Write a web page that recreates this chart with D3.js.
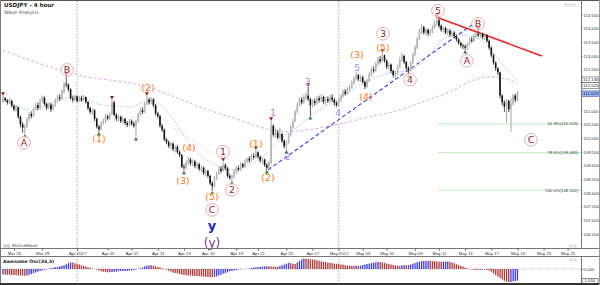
<!DOCTYPE html>
<html lang="en">
<head>
<meta charset="UTF-8">
<title>USDJPY 4 hour - Wave Analysis</title>
<script src="https://d3js.org/d3.v7.min.js"></script>
<style>
  body { margin: 0; background: #fff; }
  svg { display: block; font-family: "DejaVu Sans", sans-serif; }
</style>
</head>
<body>
<svg width="600" height="285"></svg>
<script>
// 4h candles, bar index 0..236
const firstOpen = 111.32;
const closes = [
  111.45,111.38,111.30,111.36,111.18,111.05,111.12,110.78,110.50,110.38,
  110.42,110.70,110.88,110.80,111.05,111.20,111.10,111.35,111.48,111.25,
  111.10,111.22,111.05,111.18,111.38,111.50,111.45,111.70,111.98,111.95,
  111.78,111.45,111.40,111.52,111.35,111.46,111.38,111.50,111.32,111.10,
  110.95,111.02,110.70,110.42,110.32,110.55,110.62,110.80,110.72,110.88,
  111.30,110.85,110.70,110.78,110.62,110.70,110.55,110.48,110.62,110.52,
  110.45,110.62,110.85,111.02,110.95,111.25,111.40,111.30,111.42,111.20,
  110.90,110.80,110.45,110.30,109.95,109.85,109.72,109.80,109.60,109.68,
  109.50,109.38,108.95,108.92,109.10,109.22,109.08,109.15,108.98,109.05,
  108.88,108.92,108.72,108.80,108.62,108.35,108.25,108.55,108.70,108.88,
  108.80,109.02,108.90,108.62,108.55,108.60,108.78,108.90,108.85,109.05,
  108.96,109.15,109.25,109.18,109.35,109.30,109.48,109.32,109.18,109.22,
  109.02,108.92,109.10,110.45,110.12,110.20,110.02,110.15,109.90,109.70,
  109.85,110.10,110.40,110.62,110.95,111.22,111.40,111.30,111.48,111.55,
  111.42,111.20,111.35,111.28,111.45,111.38,111.50,111.32,111.42,111.35,
  111.48,111.40,111.28,111.20,111.38,111.55,111.70,111.62,111.78,111.85,
  112.00,112.18,112.30,112.15,112.22,112.05,111.88,112.10,112.32,112.50,
  112.45,112.70,112.88,112.80,113.02,112.82,112.60,112.68,112.45,112.30,
  112.38,112.60,112.85,113.00,112.78,112.55,112.48,112.75,113.05,113.30,
  113.62,113.90,114.05,113.85,113.95,113.82,113.90,114.05,114.20,114.30,
  114.10,113.95,114.02,113.85,113.92,113.78,113.85,113.72,113.60,113.48,
  113.38,113.35,113.30,113.42,113.60,113.55,113.72,113.80,113.75,113.80,
  113.68,113.75,113.55,113.30,113.02,112.75,112.55,112.40,111.55,111.30,
  111.15,111.35,111.05,111.25,111.55,111.40,111.62
];
const highs = [
  111.54,111.50,111.42,111.44,111.40,111.22,111.20,111.15,110.82,110.58,
  110.50,110.75,110.96,110.98,111.12,111.28,111.30,111.42,111.56,111.52,
  111.30,111.30,111.28,111.24,111.45,111.58,111.60,111.78,112.05,112.24,
  112.00,111.82,111.55,111.58,111.55,111.52,111.55,111.58,111.52,111.36,
  111.15,111.08,111.05,110.75,110.48,110.62,110.72,110.88,110.86,110.95,
  111.40,111.36,110.92,110.85,110.82,110.78,110.74,110.62,110.70,110.68,
  110.60,110.68,110.92,111.10,111.12,111.32,111.54,111.48,111.50,111.45,
  111.25,110.96,110.85,110.52,110.35,110.00,109.92,109.86,109.84,109.74,
  109.76,109.55,109.42,109.05,109.18,109.32,109.28,109.22,109.20,109.12,
  109.10,109.00,108.96,108.88,108.84,108.66,108.42,108.62,108.78,108.95,
  108.98,109.14,109.08,108.95,108.70,108.66,108.85,108.98,109.00,109.12,
  109.10,109.22,109.30,109.34,109.42,109.45,109.57,109.52,109.36,109.30,
  109.25,109.08,109.18,110.63,110.50,110.35,110.30,110.38,110.18,109.95,
  109.92,110.18,110.48,110.70,111.02,111.30,111.48,111.50,111.58,111.65,
  111.87,111.48,111.42,111.45,111.52,111.55,111.60,111.55,111.50,111.52,
  111.58,111.60,111.46,111.35,111.45,111.62,111.78,111.80,111.86,111.95,
  112.10,112.25,112.42,112.35,112.30,112.28,112.10,112.16,112.40,112.58,
  112.62,112.78,112.96,113.00,113.11,113.05,112.88,112.75,112.72,112.50,
  112.45,112.68,112.95,113.10,113.04,112.82,112.62,112.82,113.12,113.38,
  113.70,114.00,114.15,114.10,114.02,114.00,113.98,114.12,114.28,114.39,
  114.35,114.15,114.08,114.05,114.00,113.98,113.92,113.90,113.78,113.65,
  113.52,113.45,113.42,113.48,113.66,113.70,113.80,113.88,113.92,113.88,
  113.85,113.82,113.80,113.60,113.35,113.08,112.80,112.58,112.42,111.60,
  111.38,111.42,111.40,111.45,111.62,111.62,111.72
];
const lows = [
  111.30,111.32,111.22,111.25,111.12,110.98,110.96,110.70,110.40,110.20,
  110.16,110.36,110.62,110.72,110.76,111.00,111.02,111.05,111.30,111.18,
  111.02,111.05,110.95,111.00,111.14,111.32,111.36,111.40,111.62,111.85,
  111.70,111.40,111.30,111.35,111.30,111.30,111.32,111.36,111.26,111.02,
  110.88,110.85,110.62,110.35,110.23,110.28,110.48,110.55,110.64,110.66,
  110.85,110.80,110.62,110.60,110.55,110.52,110.48,110.40,110.42,110.45,
  110.38,110.05,110.55,110.80,110.88,110.92,111.20,111.22,111.25,111.12,
  110.82,110.72,110.38,110.22,109.88,109.78,109.64,109.62,109.52,109.48,
  109.42,109.30,108.90,108.81,108.86,109.02,109.00,108.98,108.90,108.88,
  108.80,108.75,108.65,108.60,108.55,108.28,108.08,108.20,108.48,108.66,
  108.72,108.78,108.82,108.55,108.48,108.44,108.52,108.70,108.78,108.80,
  108.90,108.92,109.08,109.10,109.14,109.22,109.26,109.25,109.10,109.05,
  108.95,108.84,108.88,109.05,110.05,110.00,109.95,109.98,109.82,109.62,
  109.57,109.80,110.05,110.35,110.58,110.90,111.15,111.22,111.25,111.38,
  111.35,110.81,111.12,111.18,111.22,111.30,111.32,111.25,111.20,111.28,
  111.30,111.32,111.18,111.14,111.15,111.32,111.48,111.55,111.58,111.70,
  111.80,111.95,112.10,112.08,112.05,111.98,111.78,111.84,112.05,112.25,
  112.38,112.42,112.62,112.72,112.76,112.75,112.52,112.50,112.38,112.22,
  112.20,112.30,112.55,112.78,112.70,112.48,112.35,112.42,112.70,113.00,
  113.25,113.58,113.80,113.78,113.75,113.72,113.74,113.82,113.98,114.10,
  114.02,113.88,113.85,113.78,113.75,113.70,113.70,113.65,113.52,113.40,
  113.30,113.25,113.22,113.22,113.38,113.48,113.50,113.65,113.68,113.66,
  113.60,113.58,113.48,113.22,112.95,112.68,112.45,112.30,111.45,111.20,
  110.95,110.56,110.95,110.23,111.18,111.30,111.35
];

// Awesome Oscillator (34,5)
const aoValues = [
  -0.50,-0.51,-0.52,-0.52,-0.54,-0.55,-0.56,-0.58,-0.59,-0.60,
  -0.61,-0.58,-0.52,-0.45,-0.38,-0.31,-0.25,-0.18,-0.12,-0.06,
  -0.02,0.03,0.07,0.11,0.15,0.19,0.24,0.29,0.35,0.44,
  0.53,0.61,0.58,0.52,0.46,0.40,0.34,0.28,0.22,0.16,
  0.11,0.05,0.00,-0.07,-0.14,-0.20,-0.24,-0.27,-0.29,-0.30,
  -0.28,-0.26,-0.24,-0.21,-0.19,-0.18,-0.17,-0.16,-0.15,-0.12,
  -0.08,-0.05,-0.01,0.06,0.14,0.22,0.29,0.35,0.34,0.30,
  0.24,0.19,0.13,0.07,0.01,-0.07,-0.15,-0.23,-0.31,-0.36,
  -0.41,-0.46,-0.50,-0.54,-0.56,-0.58,-0.60,-0.62,-0.64,-0.65,
  -0.66,-0.67,-0.69,-0.70,-0.72,-0.74,-0.75,-0.71,-0.66,-0.58,
  -0.51,-0.44,-0.37,-0.29,-0.21,-0.17,-0.13,-0.09,-0.06,-0.03,
  -0.01,0.01,0.03,0.05,0.09,0.13,0.17,0.19,0.21,0.22,
  0.24,0.25,0.24,0.22,0.21,0.20,0.20,0.27,0.35,0.42,
  0.49,0.55,0.52,0.48,0.45,0.58,0.72,0.86,0.95,0.94,
  0.92,0.89,0.87,0.84,0.80,0.76,0.71,0.66,0.62,0.59,
  0.56,0.53,0.50,0.47,0.45,0.42,0.38,0.35,0.32,0.30,
  0.29,0.29,0.30,0.30,0.31,0.36,0.41,0.46,0.50,0.54,
  0.58,0.62,0.65,0.64,0.60,0.55,0.50,0.46,0.41,0.37,
  0.33,0.30,0.29,0.31,0.34,0.33,0.35,0.40,0.47,0.55,
  0.62,0.66,0.70,0.72,0.74,0.75,0.74,0.72,0.70,0.68,
  0.66,0.65,0.66,0.67,0.68,0.67,0.60,0.52,0.44,0.37,
  0.30,0.22,0.14,0.06,0.00,-0.04,-0.07,-0.09,-0.10,-0.08,
  -0.06,-0.05,-0.08,-0.13,-0.25,-0.40,-0.55,-0.68,-0.82,-0.95,
  -1.07,-1.15,-1.19,-1.17,-1.12,-1.08,-1.05
];

// moving averages: [bar, price]
const slowMA = [[0,113.20],[34,112.31],[66,111.87],[82,111.40],[90,111.14],[105.5,110.74],
  [121,110.34],[128.4,110.23],[154.6,110.52],[168.3,110.78],[182.1,111.03],[191.3,111.29],
  [205,111.69],[216.5,112.13],[223.4,112.24],[230.3,112.16],[236.2,112.02]];
const fastMA = [[0,111.51],[12.4,111.03],[26,111.40],[35.3,111.51],[44.5,111.22],[58.3,111.14],
  [67.4,111.40],[76.6,110.85],[85.8,109.76],[90.4,109.39],[97.2,109.03],[104.1,108.84],
  [113.3,109.03],[120.2,109.39],[127.1,109.94],[136.2,110.49],[145.4,111.03],[156.9,111.58],
  [168.3,112.13],[177.5,112.38],[186.7,112.49],[195.9,113.04],[202.8,113.66],[209.6,113.77],
  [218.8,113.59],[225.7,113.04],[230.3,112.57],[235.8,112.13]];

// trend lines: [bar, price] pairs
const supportLine = [[121.6,108.84],[215.1,114.13]];
const resistLine = [[199.5,114.39],[247.2,113.00]];
const channelLine = [[69.7,110.85],[97.2,109.39]];

// fibonacci retracements
const fibStart = 199.5;
const fibLevels = ["61.8%", "78.6%", "100.0%"];
const fibPrices = [110.519, 109.469, 108.102];

// wave labels: [bar, price, text]
const primaryWaves = [[9.6,109.83,"A"],[29.4,112.49,"B"],[95.9,107.38,"C"],[100.9,109.50,"1"],
  [105,108.11,"2"],[174.3,113.81,"3"],[186.7,112.13,"4"],[199.5,114.65,"5"],
  [212.8,112.82,"A"],[217.9,114.17,"B"],[242.2,109.94,"C"]];
const intermediateWaves = [[44,109.97,"(1)"],[66.5,111.84,"(2)"],[82.6,108.44,"(3)"],
  [85.3,109.65,"(4)"],[95.9,107.86,"(5)"],[116,109.79,"(1)"],[121.6,108.55,"(2)"],
  [162.4,113.04,"(3)"],[166.5,111.51,"(4)"],[174.3,113.30,"(5)"]];
const minorWaves = [[123.9,110.92,"1"],[130.7,109.32,"2"],[139.9,112.05,"3"],
  [153.7,110.92,"4"],[162.4,112.57,"5"]];
const cycleWaves = [[95.9,106.80,"y"]];
const superWaves = [[95.9,106.18,"(y)"]];

// swing markers (bar index)
const swingHighs = [0, 29, 50, 66, 101, 116, 123, 140, 174, 199, 218];
const swingLows = [10, 44, 61, 83, 96, 105, 121, 130, 141, 186, 212];

// axes
const priceTicks = [106.5,107,107.5,108,108.5,109,109.5,110,110.5,111,111.5,112,112.5,113,113.5,114,114.5];
const dateIdx = [5,18,34,48,59,71,83,94,107,117,130,142,154,165,176,189,200,212,224,236,248,259];
const dateLabels = ["Mar 26","Mar 29","Apr 2017","Apr 05","Apr 07","Apr 11","Apr 13","Apr 16",
  "Apr 19","Apr 21","Apr 25","Apr 27","May 2017","May 03","May 05","May 09","May 11",
  "May 14","May 17","May 19","May 23","May 25"];
const monthStarts = [34, 154];

const svg = d3.select("svg");
const W = 600, axisX = 581, mainBottom = 248;
const axisFont = "Liberation Sans";

const x = d3.scaleLinear().domain([0, 265]).range([3, 580.7]);
const y = d3.scaleLinear().domain([106, 115]).range([247.7, 1.1]);
const yAO = d3.scaleLinear().domain([-1.27, 1.09]).range([283, 257]);

svg.append("rect").attr("width", W).attr("height", 285).attr("fill", "#fff");

svg.append("clipPath").attr("id", "main")
  .append("rect").attr("x", 0).attr("y", 1).attr("width", axisX).attr("height", mainBottom - 1);

// month separators
svg.append("g").selectAll("line").data(monthStarts).join("line")
  .attr("x1", d => x(d)).attr("x2", d => x(d))
  .attr("y1", 1).attr("y2", 284)
  .attr("stroke", "#999").attr("stroke-width", 0.8).attr("stroke-dasharray", "1.5,1.5");

const plot = svg.append("g").attr("clip-path", "url(#main)");

// fib lines
fibPrices.forEach((p, k) => {
  plot.append("line")
    .attr("x1", x(fibStart)).attr("x2", axisX)
    .attr("y1", y(p)).attr("y2", y(p))
    .attr("stroke", "#bdeebd").attr("stroke-width", 1);
  plot.append("text")
    .attr("x", axisX - 3).attr("y", y(p))
    .attr("dy", "0.35em").attr("text-anchor", "end")
    .attr("font-size", 4.3).attr("fill", "#444").attr("font-family", axisFont)
    .text(fibLevels[k] + "(" + p.toFixed(3) + ")");
});

// moving averages
const maLine = d3.line().x(d => x(d[0])).y(d => y(d[1])).curve(d3.curveMonotoneX);
plot.append("path").datum(slowMA).attr("d", maLine)
  .attr("fill", "none").attr("stroke", "#e6a6e6").attr("stroke-width", 1)
  .attr("stroke-dasharray", "3,2");
plot.append("path").datum(fastMA).attr("d", maLine)
  .attr("fill", "none").attr("stroke", "#a9bff5").attr("stroke-width", 0.9)
  .attr("stroke-dasharray", "1.5,1.2");

// trend lines
const straight = d3.line().x(d => x(d[0])).y(d => y(d[1]));
plot.append("path").datum(channelLine).attr("d", straight)
  .attr("stroke", "#f6c99a").attr("stroke-width", 0.8).attr("stroke-dasharray", "1.5,1.5");
plot.append("path").datum(supportLine).attr("d", straight)
  .attr("stroke", "#3d3de0").attr("stroke-width", 1.1).attr("stroke-dasharray", "4,2.5");
plot.append("path").datum(resistLine).attr("d", straight)
  .attr("stroke", "#ee2222").attr("stroke-width", 1.6);

// candles
const bars = closes.map((c, i) => {
  const o = i === 0 ? firstOpen : closes[i - 1];
  return { i, o, c, h: Math.max(highs[i], o, c), l: Math.min(lows[i], o, c) };
});
const cg = plot.append("g");
cg.selectAll("line").data(bars).join("line")
  .attr("x1", d => x(d.i)).attr("x2", d => x(d.i))
  .attr("y1", d => y(d.h)).attr("y2", d => y(d.l))
  .attr("stroke", d => d.c >= d.o ? "#8c8c8c" : "#222").attr("stroke-width", 0.8);
cg.selectAll("rect").data(bars).join("rect")
  .attr("x", d => x(d.i) - 0.8).attr("width", 1.6)
  .attr("y", d => y(Math.max(d.o, d.c)))
  .attr("height", d => Math.max(0.8, Math.abs(y(d.o) - y(d.c))))
  .attr("fill", d => d.c >= d.o ? "#b5b5b5" : "#111");

// swing markers
const tri = d3.symbol().type(d3.symbolTriangle).size(7);
plot.append("g").selectAll("path").data(swingHighs).join("path")
  .attr("d", tri)
  .attr("transform", d => `translate(${x(d)},${y(highs[d]) - 2.5}) rotate(180)`)
  .attr("fill", "#9a1a1a");
plot.append("g").selectAll("path").data(swingLows).join("path")
  .attr("d", tri)
  .attr("transform", d => `translate(${x(d)},${y(lows[d]) + 2.5})`)
  .attr("fill", "#2e7d32");

// wave labels
const lg = svg.append("g");
lg.selectAll("circle.pw").data(primaryWaves).join("circle")
  .attr("cx", d => x(d[0])).attr("cy", d => y(d[1])).attr("r", 6.3)
  .attr("fill", "#fff").attr("fill-opacity", 0.6)
  .attr("stroke", "#e3a0a0").attr("stroke-width", 0.9);
lg.selectAll("text.pw").data(primaryWaves).join("text")
  .attr("x", d => x(d[0])).attr("y", d => y(d[1]))
  .attr("dy", "0.36em").attr("text-anchor", "middle")
  .attr("font-size", 9.5).attr("fill", "#9b1b1b")
  .text(d => d[2]);
function waveText(data, size, color, weight) {
  lg.append("g").selectAll("text").data(data).join("text")
    .attr("x", d => x(d[0])).attr("y", d => y(d[1]))
    .attr("dy", "0.36em").attr("text-anchor", "middle")
    .attr("font-size", size).attr("fill", color).attr("font-weight", weight)
    .text(d => d[2]);
}
waveText(intermediateWaves, 9.5, "#ff7a12", "normal");
waveText(minorWaves, 9, "#a982ee", "normal");
waveText(cycleWaves, 13, "#2323c8", "bold");
waveText(superWaves, 12, "#80308f", "normal");

// value tags on the price axis (stacked so they do not overlap)
const tags = [
  { p: fastMA[fastMA.length - 1][1], fill: "#fff", stroke: "#555" },
  { p: slowMA[slowMA.length - 1][1], fill: "#fff", stroke: "#555" },
  { p: closes[closes.length - 1], fill: "#9fb4ff", stroke: "#4a5fc0" }
];
let prevY = -Infinity;
tags.forEach(t => { t.ty = Math.max(y(t.p), prevY + 5.8); prevY = t.ty; });

// price axis (labels hidden under a tag are dropped)
const visibleTicks = priceTicks.filter(p => tags.every(t => Math.abs(y(p) - t.ty) > 5));
const gy = svg.append("g").attr("transform", `translate(${axisX},0)`)
  .call(d3.axisRight(y).tickValues(visibleTicks).tickFormat(d3.format(".3f")).tickSize(1.5).tickPadding(1));
gy.select(".domain").remove();
gy.selectAll("text").attr("font-size", 4.3).attr("fill", "#333").attr("font-family", axisFont);
gy.selectAll("line").attr("stroke", "#555");

const tg = svg.append("g").selectAll("g").data(tags).join("g")
  .attr("transform", d => `translate(${axisX + 1},${d.ty})`);
tg.append("rect").attr("x", 0).attr("y", -2.8).attr("width", 17).attr("height", 5.6)
  .attr("fill", d => d.fill).attr("stroke", d => d.stroke).attr("stroke-width", 0.6);
tg.append("text").attr("x", 1.3).attr("dy", "0.35em").attr("font-size", 4.3).attr("fill", "#222")
  .attr("font-family", axisFont).text(d => d.p.toFixed(3));

// date axis
const gx = svg.append("g").attr("transform", `translate(0,${mainBottom + 1})`)
  .call(d3.axisBottom(x).tickValues(dateIdx).tickFormat((d, k) => dateLabels[k]).tickSize(1.5).tickPadding(1));
gx.select(".domain").remove();
gx.selectAll("text").attr("font-size", 4.3).attr("fill", "#333").attr("font-family", axisFont);
gx.selectAll("line").attr("stroke", "#555");

// awesome oscillator
svg.append("line").attr("x1", 0).attr("x2", axisX).attr("y1", yAO(0)).attr("y2", yAO(0))
  .attr("stroke", "#999").attr("stroke-width", 0.6).attr("stroke-dasharray", "1,1");
svg.append("g").selectAll("line").data(aoValues).join("line")
  .attr("x1", (d, i) => x(i)).attr("x2", (d, i) => x(i))
  .attr("y1", yAO(0)).attr("y2", d => yAO(d))
  .attr("stroke", (d, i) => (i === 0 || d > aoValues[i - 1]) ? "#3b3be8" : "#b03434")
  .attr("stroke-width", 1.3);
const ga = svg.append("g").attr("transform", `translate(${axisX},0)`)
  .call(d3.axisRight(yAO).tickValues([0]).tickFormat(d3.format(".3f")).tickSize(1.5).tickPadding(1));
ga.select(".domain").remove();
ga.selectAll("text").attr("font-size", 4.3).attr("fill", "#333").attr("font-family", axisFont);
const aoLast = aoValues[aoValues.length - 1];
svg.append("rect").attr("x", axisX + 1).attr("y", 278.3).attr("width", 16).attr("height", 5)
  .attr("fill", "#fff").attr("stroke", "#444").attr("stroke-width", 0.6);
svg.append("text").attr("x", axisX + 2).attr("y", 280.8).attr("dy", "0.35em")
  .attr("font-size", 4.3).attr("fill", "#222").attr("font-family", axisFont).text(aoLast.toFixed(3));

// frame and panel separators
const frame = svg.append("g").attr("stroke", "#777").attr("fill", "none");
frame.append("line").attr("x1", 0).attr("x2", W).attr("y1", 0.5).attr("y2", 0.5).attr("stroke", "#555");
frame.append("line").attr("x1", 0.5).attr("x2", 0.5).attr("y1", 0).attr("y2", 285);
frame.append("line").attr("x1", 0).attr("x2", W).attr("y1", mainBottom + 0.5).attr("y2", mainBottom + 0.5);
frame.append("line").attr("x1", 0).attr("x2", W).attr("y1", 256.5).attr("y2", 256.5);
frame.append("line").attr("x1", axisX + 0.5).attr("x2", axisX + 0.5).attr("y1", 0).attr("y2", mainBottom);
frame.append("line").attr("x1", axisX + 0.5).attr("x2", axisX + 0.5).attr("y1", 257).attr("y2", 283);
frame.append("line").attr("x1", 0).attr("x2", W).attr("y1", 284).attr("y2", 284)
  .attr("stroke", "#333").attr("stroke-width", 2);
frame.append("line").attr("x1", W - 0.5).attr("x2", W - 0.5).attr("y1", 0).attr("y2", 285).attr("stroke", "#999");

// titles and legends
svg.append("text").attr("x", 4).attr("y", 7).attr("font-size", 5.6).attr("font-weight", "bold")
  .attr("fill", "#222").text("USDJPY - 4 hour");
svg.append("text").attr("x", 4).attr("y", 13.5).attr("font-size", 4.8)
  .attr("fill", "#555").text("Wave Analysis");
svg.append("text").attr("x", 3).attr("y", 263).attr("font-size", 4.6).attr("font-weight", "bold")
  .attr("fill", "#222").text("Awesome Osc(34,5)");
const icons = [[5, 246], [8.5, 246]];
svg.append("g").selectAll("circle").data(icons).join("circle")
  .attr("cx", d => d[0]).attr("cy", d => d[1]).attr("r", 1.4)
  .attr("fill", "#ddd").attr("stroke", "#999").attr("stroke-width", 0.5);
svg.append("text").attr("x", 12).attr("y", 247.3).attr("font-size", 4.2)
  .attr("fill", "#444").text("MotiveWave");
const topIcons = [[566, 5], [570, 5], [574, 5], [571, 246], [575, 246], [571, 260], [575, 260]];
svg.append("g").selectAll("circle").data(topIcons).join("circle")
  .attr("cx", d => d[0]).attr("cy", d => d[1]).attr("r", 1.3)
  .attr("fill", "none").attr("stroke", "#aaa").attr("stroke-width", 0.5);
</script>
</body>
</html>
